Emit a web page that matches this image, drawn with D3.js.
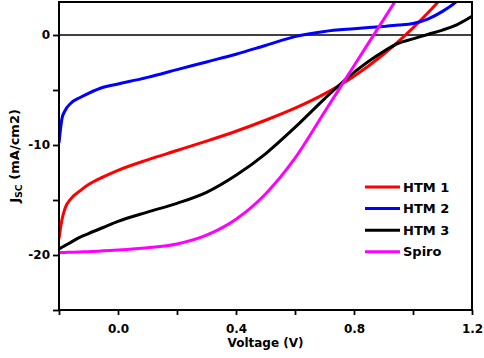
<!DOCTYPE html>
<html>
<head>
<meta charset="utf-8">
<script src="https://cdn.jsdelivr.net/npm/d3@7"></script>
<style>
  body { margin: 0; background: #fff; }
  svg { display: block; font-family: 'DejaVu Sans', sans-serif; font-weight: bold; }
</style>
</head>
<body>
<svg id="chart"></svg>
<script>
// J-V data (V, mA/cm2)
const voltage = [-0.2, -0.19, -0.18, -0.16, -0.13, -0.1, -0.05, 0, 0.1, 0.2, 0.3, 0.4, 0.5, 0.6, 0.7, 0.8, 0.9, 0.95, 1.0, 1.05, 1.1, 1.15, 1.2];
const htm1 = [-18.5, -16.8, -15.8, -14.9, -14.2, -13.6, -12.9, -12.3, -11.35, -10.5, -9.65, -8.75, -7.75, -6.65, -5.35, -3.75, -1.75, -0.6, 0.65, 2.0, 3.45, 5.0, 6.6];
const htm2 = [-9.8, -7.6, -6.9, -6.2, -5.7, -5.3, -4.75, -4.45, -3.85, -3.15, -2.45, -1.75, -0.95, -0.15, 0.32, 0.57, 0.78, 0.9, 1.05, 1.45, 2.15, 3.1, 4.6];
const htm3 = [-19.45, -19.3, -19.15, -18.85, -18.4, -18.05, -17.5, -16.95, -16.1, -15.3, -14.3, -12.75, -10.8, -8.4, -5.8, -3.4, -1.5, -0.75, -0.35, 0.05, 0.45, 0.95, 1.7];
const spiro = [-19.8, -19.78, -19.77, -19.75, -19.72, -19.7, -19.62, -19.55, -19.35, -19.0, -18.2, -16.75, -14.45, -11.2, -7.0, -2.8, 1.4, 3.5, 5.6, 7.7, 9.8, 11.9, 14.0];

const seriesNames = ['HTM 1', 'HTM 2', 'HTM 3', 'Spiro'];
const seriesValues = [htm1, htm2, htm3, spiro];
const seriesColors = ['#ff0000', '#0000ff', '#000000', '#ff00ff'];

const xTicks = [-0.2, 0, 0.2, 0.4, 0.6, 0.8, 1.0, 1.2];
const xTickLabels = ['0.0', '0.4', '0.8', '1.2'];
const yTicks = [-25, -20, -15, -10, -5, 0];
const yTickLabels = ['0', '-10', '-20'];

const margin = { top: 2, right: 12, bottom: 48, left: 59 };
const width = 484 - margin.left - margin.right;
const height = 358 - margin.top - margin.bottom;

const xScale = d3.scaleLinear().domain([-0.2, 1.2]).range([0, width]);
const yScale = d3.scaleLinear().domain([-25, 3]).range([height, 0]);

const svg = d3
  .select('#chart')
  .attr('width', width + margin.left + margin.right)
  .attr('height', height + margin.top + margin.bottom)
  .append('g')
  .attr('transform', `translate(${margin.left},${margin.top})`);

svg
  .append('clipPath')
  .attr('id', 'plot-clip')
  .append('rect')
  .attr('width', width)
  .attr('height', height);

// zero line
svg
  .append('line')
  .attr('x1', 0)
  .attr('x2', width)
  .attr('y1', yScale(0))
  .attr('y2', yScale(0))
  .attr('stroke', '#000')
  .attr('stroke-width', 1.6);

const line = d3
  .line()
  .curve(d3.curveMonotoneX)
  .x((d) => xScale(d[0]))
  .y((d) => yScale(d[1]));

seriesValues.forEach((vals, i) => {
  svg
    .append('path')
    .datum(voltage.map((v, j) => [v, vals[j]]))
    .attr('clip-path', 'url(#plot-clip)')
    .attr('fill', 'none')
    .attr('stroke', seriesColors[i])
    .attr('stroke-width', 3)
    .attr('d', line);
});

// axes
const fmtX = d3.format('.1f');
const xAxisGroup = svg
  .append('g')
  .attr('transform', `translate(0,${height})`)
  .call(
    d3
      .axisBottom(xScale)
      .tickValues(xTicks)
      .tickSizeInner(5)
      .tickSizeOuter(0)
      .tickPadding(9)
      .tickFormat((d) => (xTickLabels.includes(fmtX(d)) ? fmtX(d) : ''))
  );

const yAxisGroup = svg.append('g').call(
  d3
    .axisLeft(yScale)
    .tickValues(yTicks)
    .tickSizeInner(6)
    .tickSizeOuter(0)
    .tickPadding(3)
    .tickFormat((d) => (yTickLabels.includes(String(d)) ? String(d) : ''))
);

[xAxisGroup, yAxisGroup].forEach((g) => {
  g.select('.domain').remove();
  g.selectAll('.tick line').attr('stroke', '#000').attr('stroke-width', 1.8);
  g.selectAll('.tick text')
    .attr('fill', '#000')
    .style('font-family', "'DejaVu Sans', sans-serif")
    .style('font-weight', 'bold')
    .style('font-size', '12px');
});

// frame
svg
  .append('rect')
  .attr('width', width)
  .attr('height', height)
  .attr('fill', 'none')
  .attr('stroke', '#000')
  .attr('stroke-width', 2);

// axis titles
svg
  .append('text')
  .attr('x', width / 2)
  .attr('y', height + 37)
  .attr('text-anchor', 'middle')
  .style('font-size', '12px')
  .text('Voltage (V)');

const yTitle = svg
  .append('text')
  .attr('transform', `translate(${19 - margin.left},${height / 2}) rotate(-90)`)
  .attr('text-anchor', 'middle')
  .style('font-size', '13px');
yTitle.append('tspan').text('J');
yTitle.append('tspan').attr('dy', 3).style('font-size', '9.5px').text('SC');
yTitle.append('tspan').attr('dy', -3).text(' (mA/cm2)');

// legend
const legend = svg.append('g').attr('transform', `translate(${365 - margin.left},${187 - margin.top})`);
seriesNames.forEach((name, i) => {
  const row = legend.append('g').attr('transform', `translate(0,${i * 21.6})`);
  row
    .append('line')
    .attr('x1', 0)
    .attr('x2', 35)
    .attr('stroke', seriesColors[i])
    .attr('stroke-width', 3);
  row
    .append('text')
    .attr('x', 38)
    .attr('dy', '0.36em')
    .style('font-size', '13px')
    .text(name);
});
</script>
</body>
</html>
